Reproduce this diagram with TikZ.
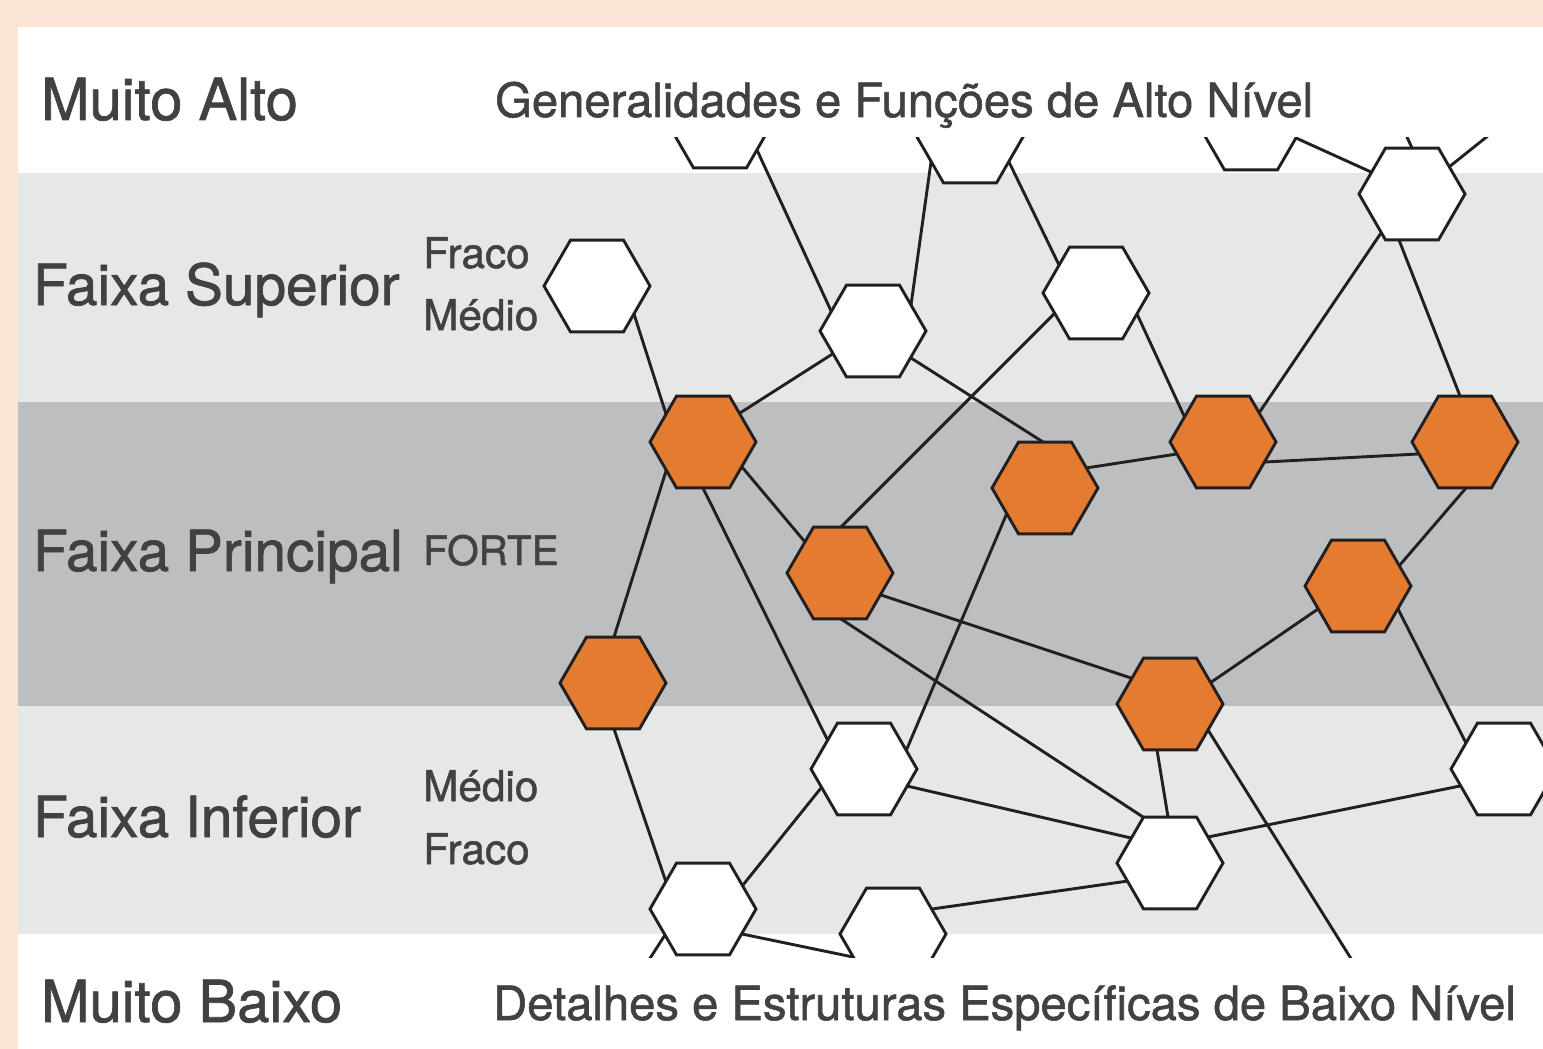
\documentclass[tikz,border=0pt]{standalone}
\usepackage{fontspec}
\setmainfont{TeX Gyre Heros}
\newfontfamily\medfont{TeX Gyre Heros}[FakeBold=1.2]
\usetikzlibrary{shapes.geometric}
\definecolor{peach}{HTML}{FAE4D5}
\definecolor{lightband}{HTML}{E6E7E7}
\definecolor{darkband}{HTML}{BDBEC0}
\definecolor{hexorange}{HTML}{E37B30}
\definecolor{inkline}{HTML}{231F20}
\definecolor{labeltext}{HTML}{414042}
\pgfdeclarelayer{under}
\pgfsetlayers{under,main}
\tikzset{
  hexbase/.style={regular polygon, regular polygon sides=6, minimum size=106pt, inner sep=0pt, outer sep=0pt, draw=inkline, line width=2.9pt},
  hexw/.style={hexbase, fill=white},
  hexo/.style={hexbase, fill=hexorange},
  conn/.style={draw=inkline, line width=2.9pt, shorten <=-14pt, shorten >=-14pt},
  connfree/.style={draw=inkline, line width=2.9pt, shorten <=-14pt},
  bigtxt/.style={anchor=base west, inner sep=0pt, text=labeltext, font={\medfont\fontsize{56.8}{60}\selectfont}},
  hugetxt/.style={anchor=base west, inner sep=0pt, text=labeltext, font={\medfont\fontsize{58}{60}\selectfont}},
  midtxt/.style={anchor=base west, inner sep=0pt, text=labeltext, font={\medfont\fontsize{47.2}{50}\selectfont}},
  smalltxt/.style={anchor=base west, inner sep=0pt, text=labeltext, font={\medfont\fontsize{42.3}{44}\selectfont}},
}
\begin{document}
\begin{tikzpicture}[x=1pt, y=-1pt]
\useasboundingbox (0,0) rectangle (1543,1049);
\begin{pgfonlayer}{under}
  \fill[peach] (0,0) rectangle (1543,1049);
  \fill[white] (18,27) rectangle (1543,1049);
  \fill[lightband] (18,173) rectangle (1543,402);
  \fill[darkband] (18,402) rectangle (1543,706);
  \fill[lightband] (18,706) rectangle (1543,934);
\end{pgfonlayer}

% labels
\node[hugetxt] (tMA) at (41,120) {Muito Alto};
\node[midtxt] (tGen) at (495,117) {Generalidades e Funções de Alto Nível};
\node[bigtxt] (tFS) at (33,305) {Faixa Superior};
\node[smalltxt] (tFr1) at (423,268) {Fraco};
\node[smalltxt] (tMe1) at (423,330) {Médio};
\node[bigtxt] (tFP) at (33,571) {Faixa Principal};
\node[smalltxt, font={\medfont\fontsize{40.5}{44}\selectfont}] (tFo) at (423,565) {FORTE};
\node[bigtxt] (tFI) at (33,837) {Faixa Inferior};
\node[smalltxt] (tMe2) at (423,801) {Médio};
\node[smalltxt] (tFr2) at (423,864) {Fraco};
\node[hugetxt] (tMB) at (41,1022) {Muito Baixo};
\node[midtxt] (tDet) at (493,1020) {Detalhes e Estruturas Específicas de Baixo Nível};

% hexagons
\begin{scope}
\clip (18,137) rectangle (1543,957);
\node[hexw] (Wt1) at (720,122) {};
\node[hexw] (Wt2) at (970,137) {};
\node[hexw] (Wt3) at (1251,124) {};
\node[hexw] (Wt4) at (1412,194) {};
\node[hexw] (W1) at (597,286) {};
\node[hexw] (W2) at (873,331) {};
\node[hexw] (W3) at (1096,293) {};
\node[hexo] (O1) at (703,442) {};
\node[hexo] (O2) at (1045,488) {};
\node[hexo] (O3) at (1223,442) {};
\node[hexo] (O4) at (1465,442) {};
\node[hexo] (O5) at (840,573) {};
\node[hexo] (O6) at (1358,586) {};
\node[hexo] (O7) at (613,683) {};
\node[hexo] (O8) at (1170,704) {};
\node[hexw] (W4) at (864,769) {};
\node[hexw] (W5) at (1504,769) {};
\node[hexw] (W6) at (1170,863) {};
\node[hexw] (W7) at (703,909) {};
\node[hexw] (W8) at (893,934) {};
\end{scope}

\coordinate (ft1) at (1402,126);
\coordinate (ft2) at (1504,123);
\coordinate (fb1) at (1365,981);
\coordinate (fb2) at (636,980);

% connectors
\begin{pgfonlayer}{under}
\begin{scope}
\clip (18,137) rectangle (1543,957);
\draw[conn] ([shift={(37,28)}]Wt1.center) -- ([shift={(-41,-18)}]W2.center);
\draw[conn] ([shift={(-39,25)}]Wt2.center) -- ([shift={(38,-26)}]W2.center);
\draw[conn] ([shift={(39,25)}]Wt2.center) -- ([shift={(-37,-28)}]W3.center);
\draw[conn] ([shift={(45,14)}]Wt3.center) -- ([shift={(-41,-22)}]Wt4.center);
\draw[connfree] ([shift={(0,-46)}]Wt4.center) -- (ft1);
\draw[connfree] ([shift={(37,-27)}]Wt4.center) -- (ft2);
\draw[conn] ([shift={(-31,39)}]Wt4.center) -- ([shift={(38,-32)}]O3.center);
\draw[conn] ([shift={(-13,46)}]Wt4.center) -- ([shift={(-5,-46)}]O4.center);
\draw[conn] ([shift={(37,28)}]W1.center) -- ([shift={(-37,-28)}]O1.center);
\draw[conn] ([shift={(-39,22)}]W2.center) -- ([shift={(37,-29)}]O1.center);
\draw[conn] ([shift={(38,27)}]W2.center) -- ([shift={(-2,-46)}]O2.center);
\draw[conn] ([shift={(-41,20)}]W3.center) -- ([shift={(1,-46)}]O5.center);
\draw[conn] ([shift={(41,21)}]W3.center) -- ([shift={(-38,-24)}]O3.center);
\draw[conn] ([shift={(-37,29)}]O1.center) -- ([shift={(1,-46)}]O7.center);
\draw[conn] ([shift={(0,46)}]O1.center) -- ([shift={(-36,-28)}]W4.center);
\draw[conn] ([shift={(39,25)}]O1.center) -- ([shift={(-35,-31)}]O5.center);
\draw[conn] ([shift={(41,22)}]O5.center) -- ([shift={(-39,-26)}]O8.center);
\draw[conn] ([shift={(1,46)}]O5.center) -- ([shift={(-27,-46)}]W6.center);
\draw[conn] ([shift={(-38,25)}]O2.center) -- ([shift={(42,-18)}]W4.center);
\draw[conn] ([shift={(41,-20)}]O2.center) -- ([shift={(-46,12)}]O3.center);
\draw[conn] ([shift={(42,20)}]O3.center) -- ([shift={(-47,12)}]O4.center);
\draw[conn] ([shift={(1,46)}]O4.center) -- ([shift={(41,-20)}]O6.center);
\draw[conn] ([shift={(-40,23)}]O6.center) -- ([shift={(40,-21)}]O8.center);
\draw[conn] ([shift={(40,23)}]O6.center) -- ([shift={(-38,-26)}]W5.center);
\draw[conn] ([shift={(1,46)}]O7.center) -- ([shift={(-37,-27)}]W7.center);
\draw[conn] ([shift={(-13,46)}]O8.center) -- ([shift={(-2,-46)}]W6.center);
\draw[connfree] ([shift={(38,26)}]O8.center) -- (fb1);
\draw[conn] ([shift={(-43,19)}]W4.center) -- ([shift={(40,-24)}]W7.center);
\draw[conn] ([shift={(43,17)}]W4.center) -- ([shift={(-39,-25)}]W6.center);
\draw[conn] ([shift={(-44,17)}]W5.center) -- ([shift={(38,-26)}]W6.center);
\draw[conn] ([shift={(-42,18)}]W6.center) -- ([shift={(39,-25)}]W8.center);
\draw[conn] ([shift={(39,25)}]W7.center) -- ([shift={(-40,23)}]W8.center);
\draw[connfree] ([shift={(-38,26)}]W7.center) -- (fb2);
\end{scope}
\end{pgfonlayer}
\end{tikzpicture}
\end{document}
